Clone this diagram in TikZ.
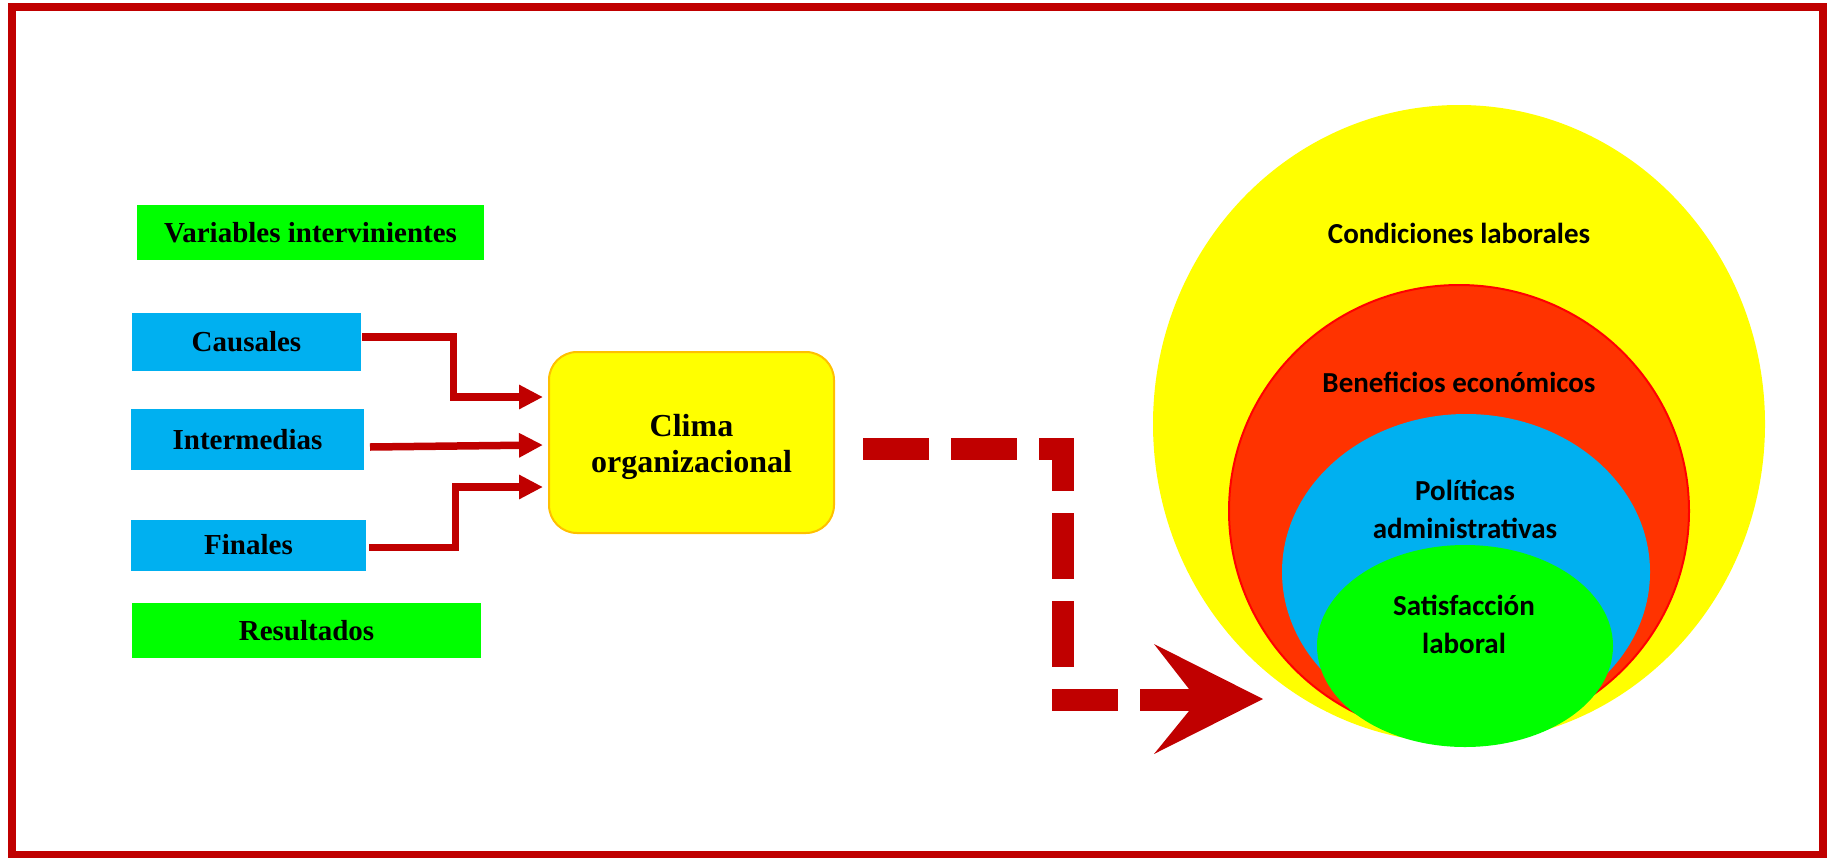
\documentclass[tikz,border=0pt]{standalone}
\usepackage{fontspec}
\setmainfont{Liberation Serif}
\newfontfamily\calib{Carlito}
\usetikzlibrary{arrows.meta,shapes.geometric,calc}
\definecolor{dred}{HTML}{C00000}
\definecolor{cblue}{HTML}{00B0F0}
\definecolor{cgreen}{HTML}{00FF00}
\definecolor{cyellow}{HTML}{FFFF00}
\definecolor{corange}{HTML}{FFC000}
\definecolor{cred}{HTML}{FF3300}
\begin{document}
\begin{tikzpicture}[x=1pt,y=-1pt,
  lbox/.style={rectangle, inner sep=0pt, font=\bfseries\fontsize{29}{34}\selectfont, text=black},
  bluebox/.style={lbox, fill=cblue},
  greenbox/.style={lbox, fill=cgreen},
  sarrow/.style={draw=dred, line width=7.5pt, -{Triangle[length=24pt,width=23pt]}},
  darrow/.style={draw=dred, line width=22pt, dash pattern=on 66pt off 22pt},
  ring/.style={ellipse, inner sep=0pt},
  rtext/.style={font=\calib\bfseries\fontsize{29}{38}\selectfont, align=center, text=black, inner sep=0pt}
]
\useasboundingbox (0,0) rectangle (1833,857);
\draw[dred, line width=8pt] (12,7) rectangle (1823,855);

% left boxes
\node[greenbox, minimum width=347pt, minimum height=55pt] (vi) at (310.5,232.5) {Variables intervinientes};
\node[bluebox, minimum width=229pt, minimum height=58pt] (cau) at (246.5,342) {Causales};
\node[bluebox, minimum width=233pt, minimum height=61pt] (int) at (247.5,439.5) {Intermedias};
\node[bluebox, minimum width=235pt, minimum height=51pt] (fin) at (248.5,545) {Finales};
\node[greenbox, minimum width=349pt, minimum height=55pt] (res) at (306.5,630.5) {Resultados};

% clima
\node[rectangle, rounded corners=28pt, fill=cyellow, draw=corange, line width=2pt,
  minimum width=285pt, minimum height=181pt] (clima) at (691.5,442.5) {};
\node[align=center, inner sep=0pt, font=\bfseries\fontsize{32}{36}\selectfont] (climat) at ($(clima.center)+(0,4)$) {Clima\\organizacional};

% solid arrows
\coordinate (c1s) at (362,337);
\coordinate (c2s) at (370,447);
\coordinate (c3s) at (369,547.5);
\draw[sarrow] (c1s) -- ++(91.5,0) |- ($(clima.west)+(-5,-45.5)$);
\draw[sarrow] (c2s) -- ($(clima.west)+(-5,2.5)$);
\draw[sarrow] (c3s) -- ++(86.5,0) |- ($(clima.west)+(-5,44.5)$);

% dashed arrow
\coordinate (d0) at ($(clima.east)+(28,6.5)$);
\coordinate (d1) at (1189,700);
\draw[darrow] (d0) -| (1063,700) -- (d1);
\fill[dred] (1263,699) -- (1154,644) -- (1189,689) -- (1189,711) -- (1154,754) -- cycle;

% nested ellipses
\node[ring, fill=cyellow, minimum width=612pt, minimum height=638pt] (cond) at (1459,424) {};
\node[ring, fill=cred, draw=red, line width=2pt, minimum width=460pt, minimum height=452pt] (ben) at (1459,511) {};
\node[ring, fill=cblue, minimum width=368pt, minimum height=316pt] (pol) at (1466,572) {};
\node[ring, fill=cgreen, minimum width=296pt, minimum height=202pt] (sat) at (1465,646) {};

\node[rtext] (tcond) at (1459,233) {Condiciones laborales};
\node[rtext] (tben) at (1459,382) {Beneficios económicos};
\node[rtext] (tpol) at (1465,509) {Políticas\\administrativas};
\node[rtext] (tsat) at (1464,624) {Satisfacción\\laboral};
\end{tikzpicture}
\end{document}
